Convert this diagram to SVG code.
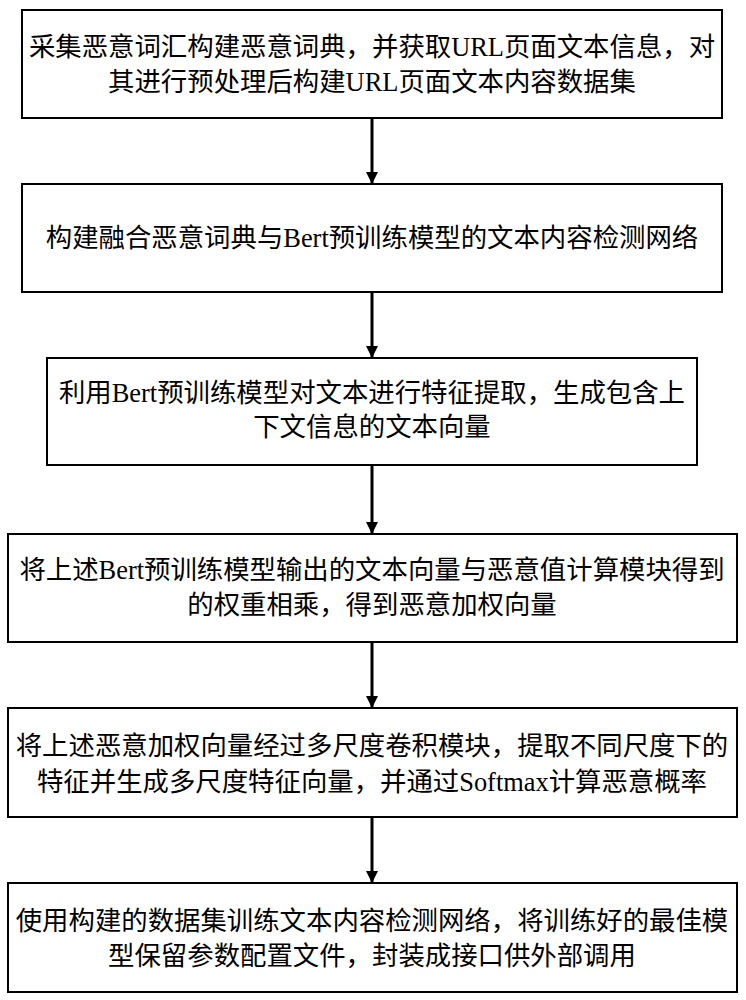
<svg xmlns="http://www.w3.org/2000/svg" width="746" height="1000" viewBox="0 0 746 1000">
<style>
.b{fill:#fff;stroke:#000;stroke-width:2}
.t{font-family:"Liberation Serif","Noto Sans CJK SC",serif;font-size:26.4px;text-anchor:middle;fill:#000}
.c{stroke:#000;stroke-width:3;fill:none}
</style>
<defs><marker id="a" markerWidth="12" markerHeight="12" refX="11" refY="6" orient="auto" markerUnits="userSpaceOnUse" viewBox="0 0 12 12"><path d="M0,0L12,6L0,12z" fill="#000"/></marker></defs>
<rect width="746" height="1000" fill="#fff"/>
<g id="n1"><rect class="b" x="22" y="10" width="700" height="108"/><text class="t" x="372" y="56">采集恶意词汇构建恶意词典，并获取URL页面文本信息，对</text><text class="t" x="372" y="91">其进行预处理后构建URL页面文本内容数据集</text></g>
<g id="n2"><rect class="b" x="22" y="184" width="700" height="108"/><text class="t" x="372" y="247">构建融合恶意词典与Bert预训练模型的文本内容检测网络</text></g>
<g id="n3"><rect class="b" x="47" y="358" width="650" height="107"/><text class="t" x="372" y="402">利用Bert预训练模型对文本进行特征提取，生成包含上</text><text class="t" x="372" y="436">下文信息的文本向量</text></g>
<g id="n4"><rect class="b" x="8" y="534" width="729" height="108"/><text class="t" x="372" y="579">将上述Bert预训练模型输出的文本向量与恶意值计算模块得到</text><text class="t" x="372" y="614">的权重相乘，得到恶意加权向量</text></g>
<g id="n5"><rect class="b" x="8" y="708" width="729" height="109"/><text class="t" x="372" y="755">将上述恶意加权向量经过多尺度卷积模块，提取不同尺度下的</text><text class="t" x="372" y="791">特征并生成多尺度特征向量，并通过Softmax计算恶意概率</text></g>
<g id="n6"><rect class="b" x="8" y="883" width="729" height="109"/><text class="t" x="372" y="930">使用构建的数据集训练文本内容检测网络，将训练好的最佳模</text><text class="t" x="372" y="965">型保留参数配置文件，封装成接口供外部调用</text></g>
<g id="connectors">
<line class="c" x1="372" y1="118" x2="372" y2="183" marker-end="url(#a)"/>
<line class="c" x1="372" y1="292" x2="372" y2="357" marker-end="url(#a)"/>
<line class="c" x1="372" y1="465" x2="372" y2="533" marker-end="url(#a)"/>
<line class="c" x1="372" y1="642" x2="372" y2="707" marker-end="url(#a)"/>
<line class="c" x1="372" y1="817" x2="372" y2="882" marker-end="url(#a)"/>
</g>
</svg>
